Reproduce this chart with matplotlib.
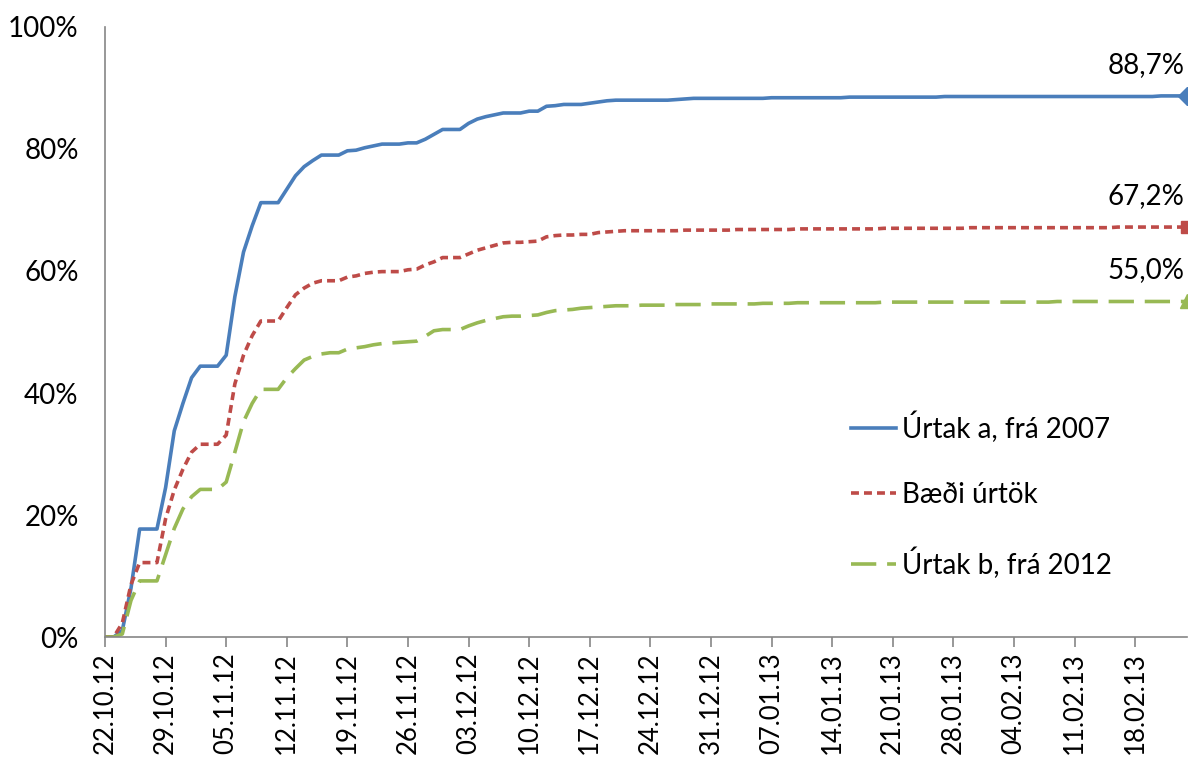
import numpy as np
import pandas as pd
import matplotlib
matplotlib.use('Agg')
import matplotlib.pyplot as plt
import matplotlib.dates as mdates

plt.rcParams['font.family'] = ['Lato', 'DejaVu Sans']

# daily dates, 22.10.12 .. 24.02.13
dates = pd.date_range('2012-10-22', periods=126, freq='D')

# cumulative response rate (%)
urtak_a = [0, 0, 1.1, 8.0, 17.7, 17.7, 17.7, 24.5, 33.8, 38.3,
           42.5, 44.4, 44.4, 44.4, 46.2, 55.8, 63.1, 67.4, 71.2, 71.2,
           71.2, 73.4, 75.6, 77.1, 78.1, 79.0, 79.0, 79.0, 79.7, 79.8,
           80.2, 80.5, 80.8, 80.8, 80.8, 81.0, 81.0, 81.6, 82.4, 83.2,
           83.2, 83.2, 84.2, 84.9, 85.3, 85.6, 85.9, 85.9, 85.9, 86.2,
           86.2, 87.0, 87.1, 87.3, 87.3, 87.3, 87.5, 87.7, 87.9, 88.0,
           88.0, 88.0, 88.0, 88.0, 88.0, 88.0, 88.1, 88.2, 88.3, 88.3,
           88.3, 88.3, 88.3, 88.3, 88.3, 88.3, 88.3, 88.4, 88.4, 88.4,
           88.4, 88.4, 88.4, 88.4, 88.4, 88.4, 88.5, 88.5, 88.5, 88.5,
           88.5, 88.5, 88.5, 88.5, 88.5, 88.5, 88.5, 88.6, 88.6, 88.6,
           88.6, 88.6, 88.6, 88.6, 88.6, 88.6, 88.6, 88.6, 88.6, 88.6,
           88.6, 88.6, 88.6, 88.6, 88.6, 88.6, 88.6, 88.6, 88.6, 88.6,
           88.6, 88.6, 88.7, 88.7, 88.7, 88.7]
baedi = [0, 0, 2.3, 8.6, 12.2, 12.2, 12.2, 19.4, 24.1, 27.5,
         30.3, 31.6, 31.6, 31.6, 33.1, 41.5, 46.2, 49.4, 51.8, 51.8,
         51.8, 54.0, 56.1, 57.2, 58.0, 58.4, 58.4, 58.4, 59.0, 59.2,
         59.6, 59.8, 59.9, 59.9, 59.9, 60.2, 60.3, 61.0, 61.5, 62.2,
         62.2, 62.2, 62.8, 63.4, 63.8, 64.2, 64.6, 64.7, 64.7, 64.8,
         64.9, 65.6, 65.8, 65.9, 65.9, 66.0, 66.0, 66.3, 66.4, 66.5,
         66.6, 66.6, 66.6, 66.6, 66.6, 66.6, 66.6, 66.7, 66.7, 66.7,
         66.7, 66.7, 66.7, 66.8, 66.8, 66.8, 66.8, 66.8, 66.8, 66.8,
         66.9, 66.9, 66.9, 66.9, 66.9, 66.9, 66.9, 66.9, 66.9, 66.9,
         67.0, 67.0, 67.0, 67.0, 67.0, 67.0, 67.0, 67.0, 67.0, 67.0,
         67.1, 67.1, 67.1, 67.1, 67.1, 67.1, 67.1, 67.1, 67.1, 67.1,
         67.1, 67.1, 67.1, 67.1, 67.1, 67.1, 67.1, 67.2, 67.2, 67.2,
         67.2, 67.2, 67.2, 67.2, 67.2, 67.2]
urtak_b = [0, 0, 0.5, 6.0, 9.2, 9.2, 9.2, 13.5, 17.8, 21.0,
           23.0, 24.2, 24.2, 24.2, 25.4, 30.3, 35.3, 38.3, 40.6, 40.6,
           40.6, 42.5, 44.0, 45.4, 46.0, 46.4, 46.6, 46.6, 47.2, 47.4,
           47.6, 47.9, 48.1, 48.2, 48.3, 48.4, 48.5, 49.3, 50.2, 50.4,
           50.4, 50.4, 51.0, 51.5, 51.9, 52.2, 52.5, 52.6, 52.6, 52.7,
           52.8, 53.2, 53.5, 53.6, 53.7, 53.9, 54.0, 54.1, 54.2, 54.3,
           54.3, 54.3, 54.4, 54.4, 54.4, 54.4, 54.5, 54.5, 54.5, 54.5,
           54.6, 54.6, 54.6, 54.6, 54.6, 54.6, 54.7, 54.7, 54.7, 54.7,
           54.8, 54.8, 54.8, 54.8, 54.8, 54.8, 54.8, 54.8, 54.8, 54.8,
           54.9, 54.9, 54.9, 54.9, 54.9, 54.9, 54.9, 54.9, 54.9, 54.9,
           54.9, 54.9, 54.9, 54.9, 54.9, 54.9, 54.9, 54.9, 54.9, 54.9,
           55.0, 55.0, 55.0, 55.0, 55.0, 55.0, 55.0, 55.0, 55.0, 55.0,
           55.0, 55.0, 55.0, 55.0, 55.0, 55.0]

labels = ['Úrtak a, frá 2007', 'Bæði úrtök', 'Úrtak b, frá 2012']
end_labels = ['88,7%', '67,2%', '55,0%']

fig = plt.figure(figsize=(11.88, 7.64), dpi=100)
ax = fig.add_axes([0.0884, 0.1662, 0.9108, 0.7985])

fs = 20
ax.plot(dates, urtak_a, color='#4A7EBB', lw=2.6, ls='-', label=labels[0])
ax.plot(dates, baedi, color='#BE4B48', lw=2.6, ls=(0, (2.2, 1.4)), label=labels[1])
ax.plot(dates, urtak_b, color='#98B954', lw=2.6, ls=(0, (7, 3)), label=labels[2])

# end markers
ax.plot(dates[-1], urtak_a[-1], marker='D', color='#4A7EBB', ms=9, clip_on=True)
ax.plot(dates[-1], baedi[-1], marker='s', color='#BE4B48', ms=9, clip_on=True)
ax.plot(dates[-1], urtak_b[-1], marker='^', color='#98B954', ms=10, clip_on=True)

for val, txt in zip([urtak_a[-1], baedi[-1], urtak_b[-1]], end_labels):
    ax.annotate(txt, (dates[-1], val), xytext=(-2, 13), textcoords='offset points',
                ha='right', va='bottom', fontsize=fs)

ax.set_xlim(dates[0], dates[-1])
ax.set_ylim(0, 100)
ax.set_yticks(np.arange(0, 101, 20))
ax.set_yticklabels([f'{v}%' for v in range(0, 101, 20)], fontsize=fs)
ax.set_xticks(dates[::7])
ax.xaxis.set_major_formatter(mdates.DateFormatter('%d.%m.%y'))
plt.setp(ax.get_xticklabels(), rotation=90, fontsize=18.5)

for s in ['top', 'right']:
    ax.spines[s].set_visible(False)
for s in ['left', 'bottom']:
    ax.spines[s].set_color('#868686')
    ax.spines[s].set_linewidth(1.2)
ax.tick_params(axis='y', length=0, pad=19)
ax.tick_params(axis='x', length=7, color='#868686', width=1.2, pad=4)

ax.legend(loc='upper left', bbox_to_anchor=(0.666, 0.411), frameon=False, fontsize=fs,
          handlelength=1.65, handletextpad=0.2, labelspacing=1.42)

fig.savefig('out.png', dpi=100)
